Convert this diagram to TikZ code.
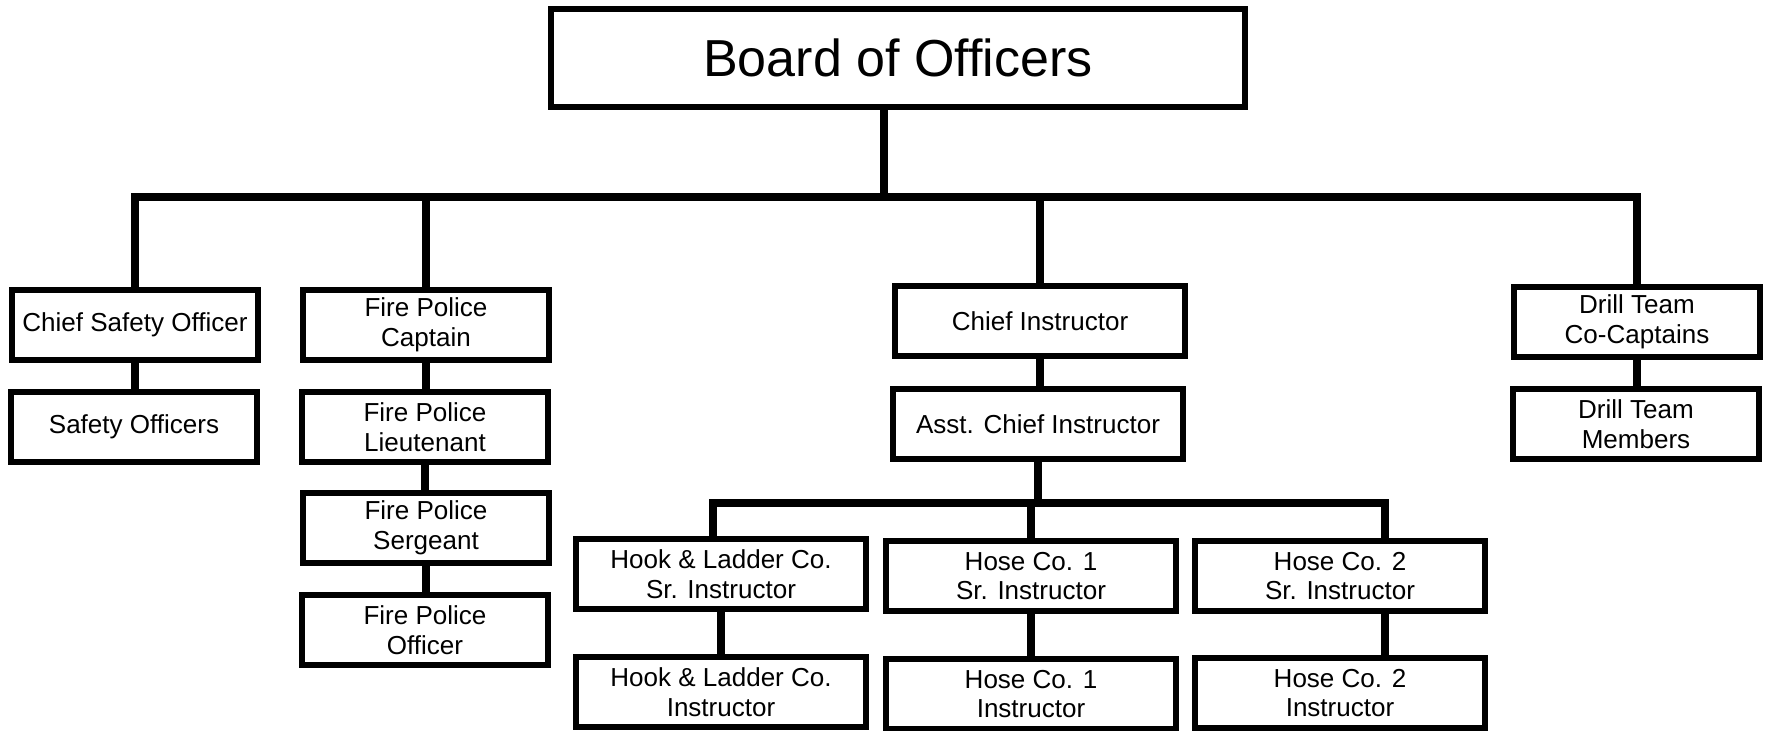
\documentclass[tikz,border=0pt]{standalone}
\usepackage{fontspec}
\setmainfont{Liberation Sans}
\usetikzlibrary{positioning}
\tikzset{box/.style = {draw, line width=1.7pt, align=center, inner sep=0pt,
                       minimum height=0.70cm, font=\fontsize{7.4}{8.5}\selectfont},
         narrow/.style = {box, minimum width=2.45cm},
         wide/.style = {box, minimum width=2.89cm},
         link/.style = {line width=2.4pt}}

\begin{document}
\begin{tikzpicture}[x=0.01cm, y=-0.01cm]
      \useasboundingbox (0, 0) rectangle (1766, 731);

      \node [draw, line width=1.7pt, minimum width=6.94cm, minimum height=0.98cm,
             font=\fontsize{14.8}{17}\selectfont] (board) at (898, 58) {Board of Officers};

      \node [narrow] (cso) at (135, 325) {Chief Safety Officer};
      \node [narrow] (so) at (134, 427) {Safety Officers};

      \node [narrow] (fpc) at (426, 325) {Fire Police\\Captain};
      \node [narrow] (fpl) at (425, 427) {Fire Police\\Lieutenant};
      \node [narrow] (fps) at (426, 528) {Fire Police\\Sergeant};
      \node [narrow] (fpo) at (425, 630) {Fire Police\\Officer};

      \node [wide] (ci) at (1040, 321) {Chief Instructor};
      \node [wide] (aci) at (1038, 424) {Asst. Chief Instructor};

      \node [narrow] (dtc) at (1637, 322) {Drill Team\\Co-Captains};
      \node [narrow] (dtm) at (1636, 424) {Drill Team\\Members};

      \node [wide] (hls) at (721, 574) {Hook \& Ladder Co.\\Sr. Instructor};
      \node [wide] (h1s) at (1031, 576) {Hose Co. 1\\Sr. Instructor};
      \node [wide] (h2s) at (1340, 576) {Hose Co. 2\\Sr. Instructor};
      \node [wide] (hli) at (721, 692) {Hook \& Ladder Co.\\Instructor};
      \node [wide] (h1i) at (1031, 694) {Hose Co. 1\\Instructor};
      \node [wide] (h2i) at (1340, 693) {Hose Co. 2\\Instructor};

      \coordinate (trunk) at (884, 197);
      \coordinate (sbL) at (713, 503);
      \coordinate (sbR) at (1385, 503);

      \draw [link] (trunk |- board.south) -- (trunk);
      \draw [link] (cso.north) |- (trunk) -| (dtc.north);
      \foreach \n in {fpc, ci} {
        \draw [link] (\n.north) -- (\n.north |- trunk);
      };

      \foreach \a/\b in {cso/so, fpc/fpl, fpl/fps, fps/fpo, ci/aci, dtc/dtm, hls/hli, h1s/h1i} {
        \draw [link] (\a.south) -- (\a.south |- \b.north);
      };

      \draw [link] (aci.south) -- (aci.south |- sbL);
      \draw [link] (sbL |- hls.north) -- (sbL) -- (sbR) -- (sbR |- h2s.north);
      \draw [link] (h1s.north) -- (h1s.north |- sbL);
      \draw [link] (sbR |- h2s.south) -- (sbR |- h2i.north);
    \end{tikzpicture}
\end{document}
